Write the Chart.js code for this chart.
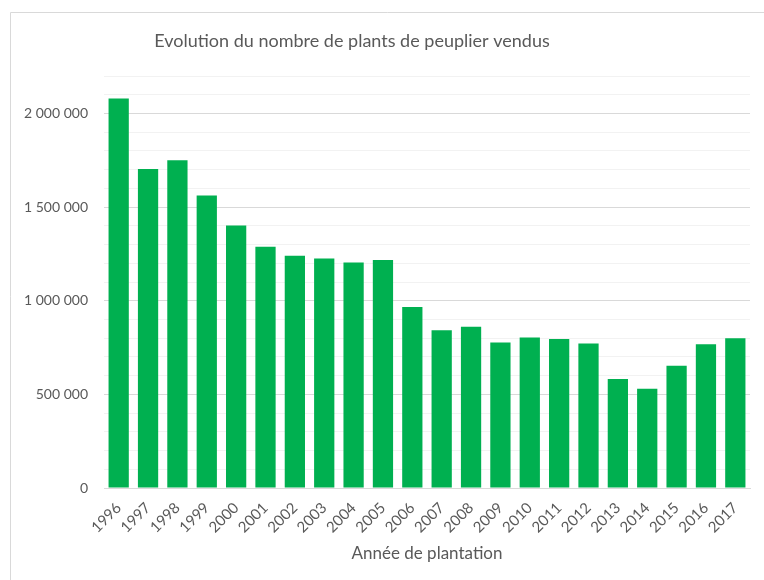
<!DOCTYPE html>
<html lang="fr">
<head>
<meta charset="utf-8">
<title>Evolution du nombre de plants de peuplier vendus</title>
<script src="https://cdn.jsdelivr.net/npm/chart.js@4"></script>
<style>
    html, body { margin: 0; padding: 0; background: #ffffff; }
    #wrap { width: 764px; height: 580px; }
</style>
</head>
<body>
<div id="wrap"><canvas id="plants-chart"></canvas></div>
<script>
// Données
const years = ['1996', '1997', '1998', '1999', '2000', '2001', '2002', '2003', '2004', '2005', '2006',
    '2007', '2008', '2009', '2010', '2011', '2012', '2013', '2014', '2015', '2016', '2017'];
const plantsSold = [2080000, 1704000, 1750000, 1562000, 1402000, 1288000, 1240000, 1226000, 1204000, 1217000, 966000,
    843000, 861000, 777000, 804000, 795000, 772000, 582000, 530000, 653000, 767000, 799000];
const yTicks = [0, 500000, 1000000, 1500000, 2000000];

const chartTitle = 'Evolution du nombre de plants de peuplier vendus';
const textColor = '#595959';
const fontFamily = 'Lato, "Open Sans", sans-serif';

// séparateur de milliers avec espace, comme dans Excel
function formatNumber(value) {
    return String(value).replace(/\B(?=(\d{3})+(?!\d))/g, ' ');
}

// cadre gris clair + titre centré comme dans Excel
const framePlugin = {
    id: 'frame',
    beforeDraw(chart) {
        const ctx = chart.ctx;
        ctx.save();
        ctx.strokeStyle = '#d9d9d9';
        ctx.lineWidth = 1;
        ctx.beginPath();
        ctx.moveTo(10.5, chart.height);
        ctx.lineTo(10.5, 12.5);
        ctx.lineTo(chart.width, 12.5);
        ctx.stroke();

        ctx.fillStyle = textColor;
        ctx.font = '18px ' + fontFamily;
        ctx.textAlign = 'center';
        ctx.textBaseline = 'middle';
        ctx.fillText(chartTitle, 352, 41);
        ctx.restore();
    }
};

const ctx = document.getElementById('plants-chart');

new Chart(ctx, {
    type: 'bar',
    data: {
        labels: years,
        datasets: [{
            label: 'Plants vendus',
            data: plantsSold,
            backgroundColor: '#00b050',
            categoryPercentage: 1,
            barPercentage: 0.69
        }]
    },
    options: {
        responsive: true,
        maintainAspectRatio: false,
        animation: false,
        layout: { padding: { left: 0, right: 14, top: 76, bottom: 0 } },
        plugins: {
            legend: { display: false },
            tooltip: { enabled: false },
            title: { display: false }
        },
        scales: {
            x: {
                grid: { display: false },
                border: { display: true, color: '#d9d9d9' },
                ticks: {
                    color: textColor,
                    font: { family: fontFamily, size: 15 },
                    maxRotation: 45,
                    minRotation: 45,
                    autoSkip: false,
                    padding: 3
                },
                title: {
                    display: true,
                    text: 'Année de plantation',
                    color: textColor,
                    font: { family: fontFamily, size: 17, lineHeight: 1.2 },
                    padding: { top: 0, bottom: 16 }
                },
                afterFit(scale) {
                    scale.height = 92;
                }
            },
            y: {
                min: 0,
                max: 2200000,
                border: { display: false },
                grid: {
                    drawTicks: false,
                    color: c => (c.tick && yTicks.includes(c.tick.value)) ? '#d9d9d9' : '#f2f2f2'
                },
                ticks: {
                    stepSize: 100000,
                    autoSkip: false,
                    color: textColor,
                    font: { family: fontFamily, size: 14 },
                    padding: 16,
                    callback: value => yTicks.includes(value) ? formatNumber(value) : ''
                },
                afterFit(scale) {
                    scale.width = 104;
                }
            }
        }
    },
    plugins: [framePlugin]
});
</script>
</body>
</html>
